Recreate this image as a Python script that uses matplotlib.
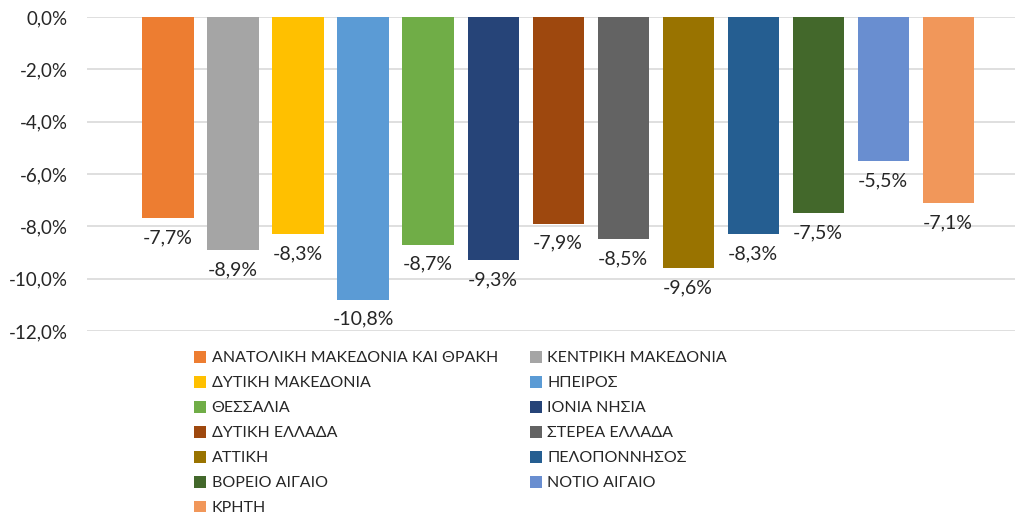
import matplotlib
matplotlib.use("Agg")
import matplotlib.pyplot as plt
from matplotlib.patches import Patch

regions = ["ΑΝΑΤΟΛΙΚΗ ΜΑΚΕΔΟΝΙΑ ΚΑΙ ΘΡΑΚΗ", "ΚΕΝΤΡΙΚΗ ΜΑΚΕΔΟΝΙΑ", "ΔΥΤΙΚΗ ΜΑΚΕΔΟΝΙΑ",
           "ΗΠΕΙΡΟΣ", "ΘΕΣΣΑΛΙΑ", "ΙΟΝΙΑ ΝΗΣΙΑ", "ΔΥΤΙΚΗ ΕΛΛΑΔΑ", "ΣΤΕΡΕΑ ΕΛΛΑΔΑ",
           "ΑΤΤΙΚΗ", "ΠΕΛΟΠΟΝΝΗΣΟΣ", "ΒΟΡΕΙΟ ΑΙΓΑΙΟ", "ΝΟΤΙΟ ΑΙΓΑΙΟ", "ΚΡΗΤΗ"]
values = [-7.7, -8.9, -8.3, -10.8, -8.7, -9.3, -7.9, -8.5, -9.6, -8.3, -7.5, -5.5, -7.1]
colors = ["#ED7D31", "#A5A5A5", "#FFC000", "#5B9BD5", "#70AD47", "#264478", "#9E480E",
          "#636363", "#997300", "#255E91", "#43682B", "#698ED0", "#F1975A"]
yticks = [0, -2, -4, -6, -8, -10, -12]

plt.rcParams['font.family'] = ['Lato', 'DejaVu Sans']
fig = plt.figure(figsize=(10.17, 5.2), dpi=100)
ax = fig.add_axes([87/1017, 1-331/520, (1015-87)/1017, (331-17)/520])

x = list(range(len(values)))
bars = ax.bar(x, values, width=0.785, color=colors, zorder=3)
for xi, v in zip(x, values):
    ax.annotate(f"{v:.1f}%".replace(".", ","), (xi, v), xytext=(0, -8),
                textcoords="offset points", ha="center", va="top", fontsize=14,
                color="#262626", zorder=4)

ax.set_ylim(-12, 0)
ax.set_xlim(-1.246, 13.03)
ax.set_yticks(yticks)
ax.set_yticklabels([f"{t:.1f}%".replace(".", ",") for t in yticks])
ax.tick_params(axis='y', length=0, pad=14, labelsize=13.5, labelcolor="#262626")
ax.set_xticks([])
ax.grid(axis='y', color="#D9D9D9", linewidth=1.2, zorder=0)
for s in ax.spines.values():
    s.set_visible(False)

order = list(range(0, 13, 2)) + list(range(1, 13, 2))
handles = [Patch(facecolor=colors[i], label=regions[i]) for i in order]
fig.legend(handles=handles, ncol=2, loc="upper left",
           bbox_to_anchor=(194/1017, 1-351/520), frameon=False, fontsize=11.5,
           handlelength=0.75, handleheight=0.75, handletextpad=0.35,
           columnspacing=2.0, labelspacing=0.66, borderpad=0, borderaxespad=0,
           labelcolor="#262626")

fig.savefig("out.png", dpi=100)
